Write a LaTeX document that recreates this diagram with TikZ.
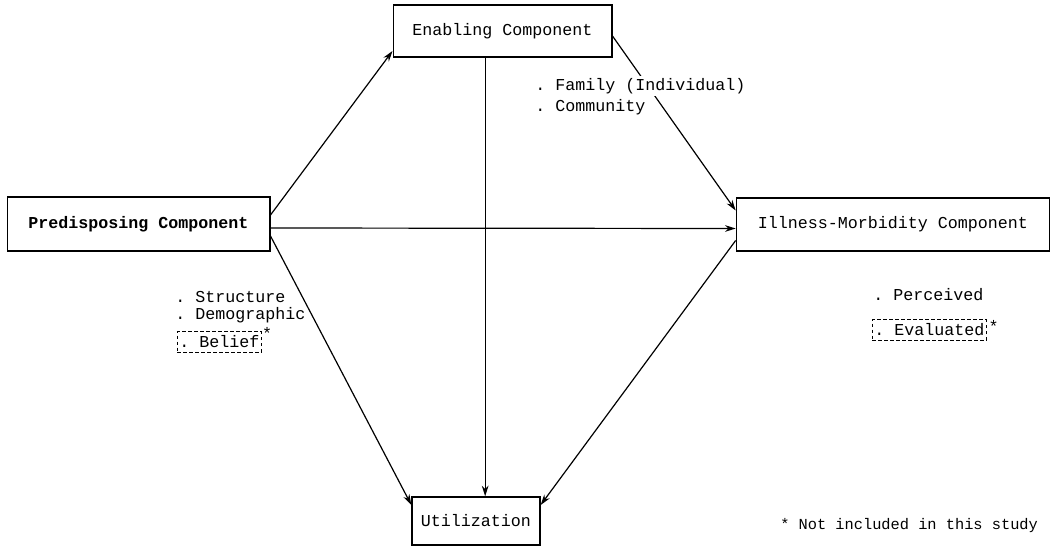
\documentclass[tikz,border=0pt]{standalone}
\usepackage{fontspec}
\setmonofont{Liberation Mono}
\usetikzlibrary{arrows.meta}
\begin{document}
\begin{tikzpicture}[x=0.75pt,y=-0.75pt,
  font=\ttfamily\fontsize{12.5}{14}\selectfont,
  comp/.style={draw,line width=1pt,inner sep=0pt,align=center},
  arr/.style={line width=0.9pt,-{Stealth[length=8pt,width=5pt]}},
  lbl/.style={anchor=west,inner sep=0pt},
  dbox/.style={draw,dashed,line width=0.7pt,dash pattern=on 2.5pt off 2pt,inner xsep=1.5pt,inner ysep=3pt,anchor=west}]
\useasboundingbox (0,0) rectangle (1051,546);
\node[comp,minimum width=197pt,minimum height=40.5pt,font=\ttfamily\bfseries\fontsize{12.5}{14}\selectfont] (P) at (138.5,224) {Predisposing Component};
\node[comp,minimum width=164pt,minimum height=39pt] (E) at (502.5,31) {Enabling Component};
\node[comp,minimum width=235pt,minimum height=39.75pt] (I) at (893,224.5) {Illness-Morbidity Component};
\node[comp,minimum width=96pt,minimum height=36pt] (U) at (476,521) {Utilization};
\draw[arr] ([yshift=6.75pt]P.east) -- ([yshift=-15pt]E.west);
\draw[arr] ([yshift=-3pt]P.east) -- ([yshift=-3pt]I.west);
\draw[arr] ([yshift=-9pt]P.east) -- ([yshift=12pt]U.west);
\draw[arr] ([xshift=-13pt]E.south) -- ([xshift=-13pt]E.south |- U.north);
\draw[arr] ([yshift=-3.75pt]E.east) -- ([yshift=10.5pt]I.west);
\draw[arr] ([yshift=-12pt]I.west) -- ([yshift=12pt]U.east);
\node[lbl,fill=white,inner ysep=2pt] (f1) at (535,86) {. Family (Individual)};
\node[lbl] (f2) at (535,107) {. Community};
\node[lbl] (s1) at (175,297) {. Structure};
\node[lbl] (s2) at (175,315) {. Demographic};
\node[dbox] (b) at (177,342) {. Belief};
\node[anchor=south west,inner sep=0pt] (bs) at ([yshift=-6pt]b.north east) {*};
\node[lbl] (p1) at (873,295) {. Perceived};
\node[dbox] (ev) at (872,330) {. Evaluated};
\node[anchor=west,inner sep=0pt] (es) at ([xshift=1pt,yshift=3pt]ev.east) {*};
\node[lbl,font=\ttfamily\fontsize{11.5}{13}\selectfont] (n) at (780,526) {* Not included in this study};
\end{tikzpicture}
\end{document}
